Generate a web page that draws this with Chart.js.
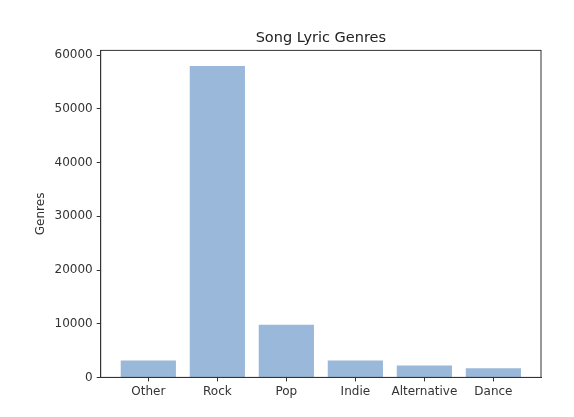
<!DOCTYPE html>
<html>
<head>
    <meta charset="UTF-8">
    <title>Song Lyric Genres</title>
    <script src="https://cdn.jsdelivr.net/npm/chart.js"></script>
    <style>
        html, body {
            margin: 0;
            padding: 0;
            background: #fff;
        }
        #wrap {
            width: 574px;
            height: 417px;
        }
    </style>
</head>
<body>
    <div id="wrap"><canvas id="genreChart" width="574" height="417"></canvas></div>

    <script>
        // genres and song counts
        const genres = ['Other', 'Rock', 'Pop', 'Indie', 'Alternative', 'Dance'];
        const counts = [3150, 58000, 9800, 3150, 2200, 1700];
        const yTicks = [0, 10000, 20000, 30000, 40000, 50000, 60000];

        const font = "'DejaVu Sans', sans-serif";
        const ink = '#333';

        // top and right spines, like matplotlib's box
        const frame = {
            id: 'frame',
            afterDraw(chart) {
                const { ctx, chartArea: a } = chart;
                ctx.save();
                ctx.strokeStyle = ink;
                ctx.lineWidth = 1;
                ctx.strokeRect(a.left, a.top, a.right - a.left, a.bottom - a.top);
                ctx.restore();
            }
        };

        new Chart(document.getElementById('genreChart'), {
            type: 'bar',
            data: {
                datasets: [{
                    label: 'Genres',
                    data: counts.map((v, i) => ({ x: i, y: v })),
                    backgroundColor: 'rgb(154, 184, 217)',
                    borderWidth: 0,
                    barPercentage: 0.8,
                    categoryPercentage: 1
                }]
            },
            options: {
                responsive: false,
                animation: false,
                layout: { padding: { left: 0, right: 33, top: 0, bottom: 0 } },
                plugins: {
                    legend: { display: false },
                    tooltip: { enabled: false },
                    title: {
                        display: true,
                        fullSize: false,
                        text: 'Song Lyric Genres',
                        color: '#222',
                        font: { family: font, size: 14.5, weight: 'normal' },
                        padding: { top: 30, bottom: 3 }
                    }
                },
                scales: {
                    x: {
                        type: 'linear',
                        min: -0.69,
                        max: 5.69,
                        offset: false,
                        afterBuildTicks: axis => { axis.ticks = genres.map((_, i) => ({ value: i })); },
                        afterFit: axis => { axis.height = 39.6; },
                        ticks: {
                            callback: v => genres[v],
                            color: ink,
                            font: { family: font, size: 12 },
                            padding: 3,
                            maxRotation: 0,
                            autoSkip: false
                        },
                        grid: { offset: false, drawOnChartArea: false, drawTicks: true, tickLength: 4, color: ink },
                        border: { display: true, color: ink }
                    },
                    y: {
                        min: 0,
                        max: 60900,
                        afterBuildTicks: axis => { axis.ticks = yTicks.map(v => ({ value: v })); },
                        afterFit: axis => { axis.width = 100.7; },
                        ticks: {
                            callback: v => String(v),
                            color: ink,
                            font: { family: font, size: 12 },
                            padding: 4
                        },
                        grid: { drawOnChartArea: false, drawTicks: true, tickLength: 4, color: ink },
                        border: { display: true, color: ink },
                        title: {
                            display: true,
                            text: 'Genres',
                            color: ink,
                            font: { family: font, size: 12 },
                            padding: { top: 34, bottom: 0 }
                        }
                    }
                }
            },
            plugins: [frame]
        });
    </script>
</body>
</html>
